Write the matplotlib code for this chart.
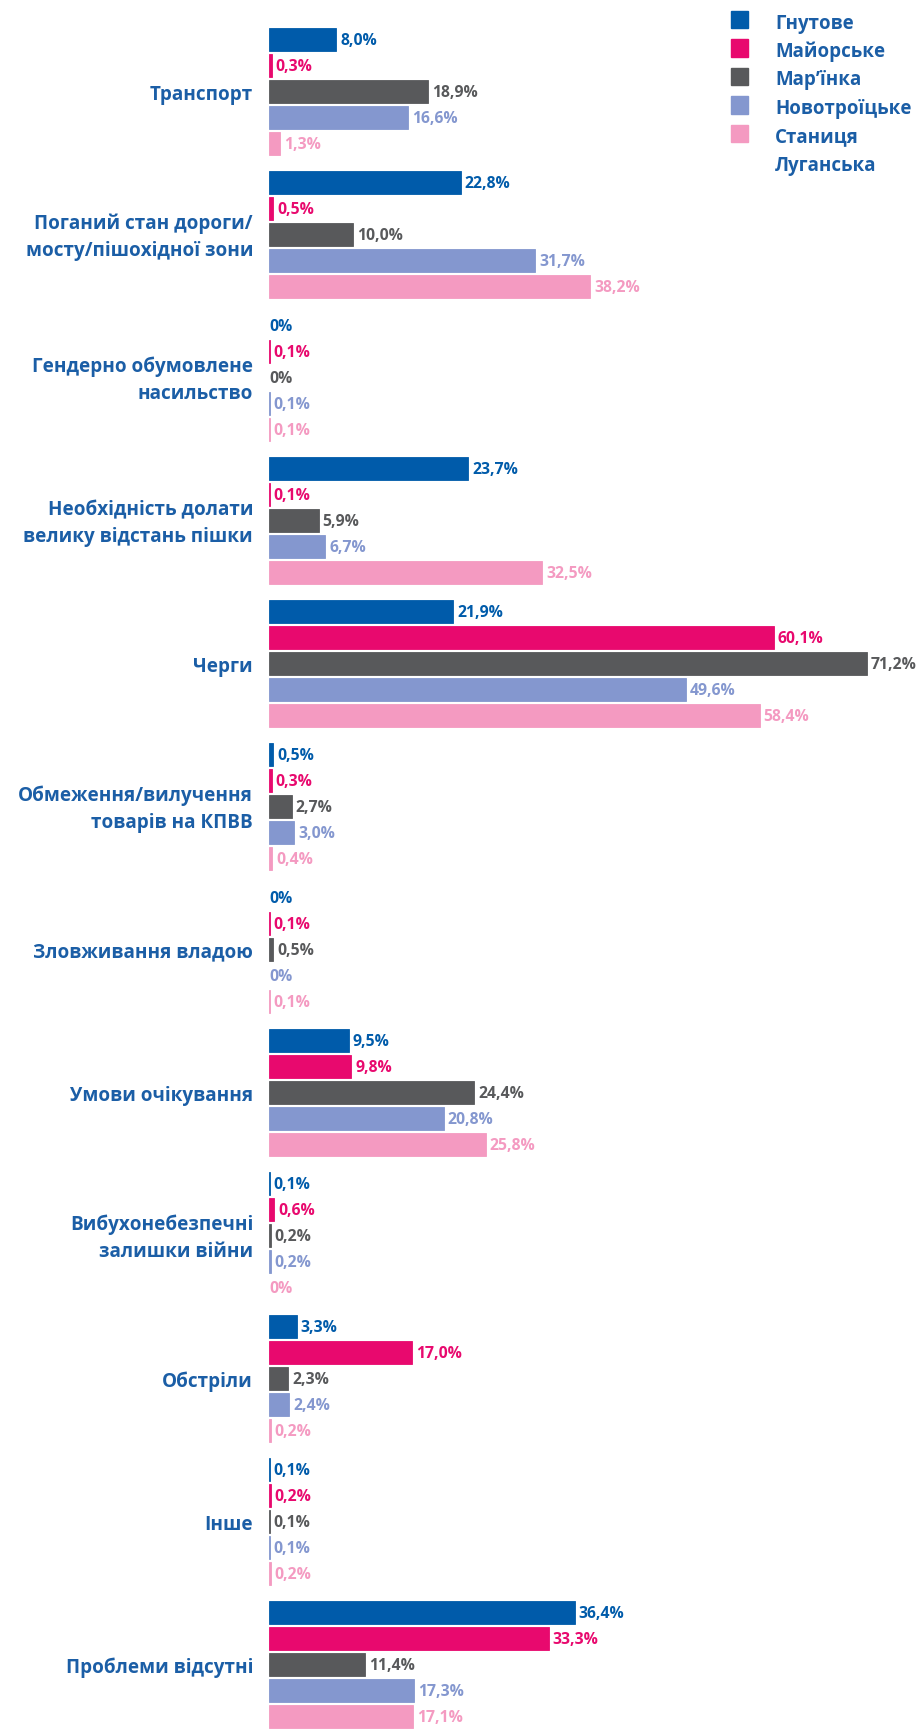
import matplotlib
matplotlib.use('Agg')
import matplotlib.pyplot as plt
from matplotlib import font_manager
from matplotlib.patches import Rectangle

# pick a humanist family that actually has a bold face installed
family = 'DejaVu Sans'
for name in ['Noto Sans', 'Open Sans', 'Lato', 'Roboto']:
    if any(f.name == name and f.weight in (700, 'bold') for f in font_manager.fontManager.ttflist):
        family = name
        break
plt.rcParams['font.family'] = [family, 'DejaVu Sans']

categories = ['Транспорт',
              'Поганий стан дороги/\nмосту/пішохідної зони',
              'Гендерно обумовлене\nнасильство',
              'Необхідність долати\nвелику відстань пішки',
              'Черги',
              'Обмеження/вилучення\nтоварів на КПВВ',
              'Зловживання владою',
              'Умови очікування',
              'Вибухонебезпечні\nзалишки війни',
              'Обстріли',
              'Інше',
              'Проблеми відсутні']
series_names = ['Гнутове', 'Майорське', 'Мар’їнка', 'Новотроїцьке', 'Станиця\nЛуганська']
hnutove = [8.0, 22.8, 0, 23.7, 21.9, 0.5, 0, 9.5, 0.1, 3.3, 0.1, 36.4]
maiorske = [0.3, 0.5, 0.1, 0.1, 60.1, 0.3, 0.1, 9.8, 0.6, 17.0, 0.2, 33.3]
marinka = [18.9, 10.0, 0, 5.9, 71.2, 2.7, 0.5, 24.4, 0.2, 2.3, 0.1, 11.4]
novotroitske = [16.6, 31.7, 0.1, 6.7, 49.6, 3.0, 0, 20.8, 0.2, 2.4, 0.1, 17.3]
stanytsia = [1.3, 38.2, 0.1, 32.5, 58.4, 0.4, 0.1, 25.8, 0, 0.2, 0.2, 17.1]

colors = ['#005BAA', '#E8096E', '#58595B', '#8497CF', '#F49AC1']
text_blue = '#1B5EA6'

series = [hnutove, maiorske, marinka, novotroitske, stanytsia]
group_step = 5.5

W, H = 923, 1729
fig = plt.figure(figsize=(W / 100, H / 100), dpi=100)
ax = fig.add_axes([269 / W, 0, 654 / W, 1])

for k, (vals, col) in enumerate(zip(series, colors)):
    ys = [i * group_step + k for i in range(len(categories))]
    lws = [0 if v == 0 else 0.6 for v in vals]
    ax.barh(ys, vals, height=0.9, color=col, edgecolor=col, linewidth=lws)
    for y, v in zip(ys, vals):
        lab = '0%' if v == 0 else f'{v:.1f}%'.replace('.', ',')
        off = 0 if v == 0 else 4
        ax.annotate(lab, xy=(v, y), xytext=(off, -1), textcoords='offset pixels',
                    ha='left', va='center', color=col, fontsize=11.3,
                    fontweight='bold')

for i, cat in enumerate(categories):
    ax.annotate(cat, xy=(0, i * group_step + 2), xytext=(-16, -3),
                textcoords='offset pixels', ha='right', va='center',
                multialignment='right', color=text_blue, fontsize=13.6,
                fontweight='bold', linespacing=1.45, annotation_clip=False)

ax.set_xlim(0, 654 / 8.4)
ax.set_ylim(64.98, -1.52)
ax.axis('off')

# legend drawn by hand so the two-line label keeps its square on the first line
for k, (name, col) in enumerate(zip(series_names, colors)):
    yc = 19.5 + k * 28.5
    fig.add_artist(Rectangle((731 / W, 1 - (yc + 8.5) / H), 17 / W, 17 / H,
                             transform=fig.transFigure, color=col))
    fig.text(775 / W, 1 - (yc - 6) / H, name, ha='left', va='top',
             color=text_blue, fontsize=13.5, fontweight='bold', linespacing=1.55)

fig.savefig('out.png', dpi=100)
